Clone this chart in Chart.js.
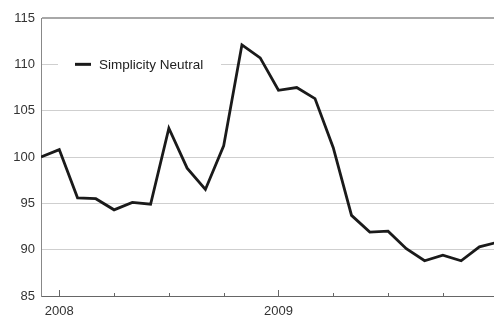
<!DOCTYPE html>
<html>
<head>
<meta charset="utf-8">
<script src="https://cdn.jsdelivr.net/npm/chart.js"></script>
<style>
    html, body { margin: 0; padding: 0; background: #fff; overflow: hidden; }
    .chart-box { width: 494px; height: 316px; position: relative; }
</style>
</head>
<body>
<div class="chart-box"><canvas id="chart"></canvas></div>
<script>
// --------------------------------------------------
//  Data (monthly, Dec 2007 - Jan 2010)
// --------------------------------------------------
var months = [
    'Dec 2007', 'Jan 2008', 'Feb 2008', 'Mar 2008', 'Apr 2008', 'May 2008', 'Jun 2008',
    'Jul 2008', 'Aug 2008', 'Sep 2008', 'Oct 2008', 'Nov 2008', 'Dec 2008',
    'Jan 2009', 'Feb 2009', 'Mar 2009', 'Apr 2009', 'May 2009', 'Jun 2009',
    'Jul 2009', 'Aug 2009', 'Sep 2009', 'Oct 2009', 'Nov 2009', 'Dec 2009', 'Jan 2010'
];
var simplicityNeutral = [
    100.0, 100.8, 95.6, 95.5, 94.3, 95.1, 94.9,
    103.1, 98.8, 96.5, 101.2, 112.1, 110.7,
    107.2, 107.5, 106.3, 101.0, 93.7, 91.9,
    92.0, 90.1, 88.8, 89.4, 88.8, 90.3, 90.8
];
var seriesName = 'Simplicity Neutral';
var yearLabels = { 'Jan 2008': '2008', 'Jan 2009': '2009' };
var quarterTicks = ['Jan 2008', 'Apr 2008', 'Jul 2008', 'Oct 2008',
                    'Jan 2009', 'Apr 2009', 'Jul 2009', 'Oct 2009'];

var FONT = '"Liberation Sans", Arial, Helvetica, sans-serif';

// the last month runs slightly past the right edge in the original
var X_MAX = 24.8;

var points = simplicityNeutral.map(function (v, i) { return { x: i, y: v }; });

// --------------------------------------------------
//  Plugins: inward tick marks + inline legend
// --------------------------------------------------
var tickMarks = {
    id: 'tickMarks',
    afterDraw: function (chart) {
        var ctx = chart.ctx;
        var x = chart.scales.x;
        var bottom = chart.chartArea.bottom;
        ctx.save();
        ctx.strokeStyle = '#666';
        ctx.lineWidth = 1;
        quarterTicks.forEach(function (m) {
            var px = Math.round(x.getPixelForValue(months.indexOf(m))) + 0.5;
            var len = yearLabels[m] ? 6 : 3;
            ctx.beginPath();
            ctx.moveTo(px, bottom);
            ctx.lineTo(px, bottom - len);
            ctx.stroke();
        });
        ctx.restore();
    }
};

var inlineLegend = {
    id: 'inlineLegend',
    beforeDatasetsDraw: function (chart) {
        var ctx = chart.ctx;
        var y = chart.scales.y.getPixelForValue(110);
        ctx.save();
        ctx.fillStyle = '#fff';
        ctx.fillRect(58, y - 9, 163, 18);
        ctx.strokeStyle = '#1a1a1a';
        ctx.lineWidth = 3;
        ctx.beginPath();
        ctx.moveTo(75, y);
        ctx.lineTo(91, y);
        ctx.stroke();
        ctx.fillStyle = '#222';
        ctx.font = '13.5px ' + FONT;
        ctx.textBaseline = 'middle';
        ctx.fillText(seriesName, 99, y + 1);
        ctx.restore();
    }
};

// --------------------------------------------------
//  Chart
// --------------------------------------------------
new Chart(document.getElementById('chart').getContext('2d'), {
    type: 'line',
    data: {
        datasets: [{
            label: seriesName,
            data: points,
            borderColor: '#1a1a1a',
            borderWidth: 2.8,
            borderJoinStyle: 'miter',
            pointRadius: 0,
            tension: 0,
            fill: false
        }]
    },
    options: {
        responsive: true,
        maintainAspectRatio: false,
        animation: false,
        layout: { padding: { left: 0, top: 18, right: 0, bottom: 0 } },
        plugins: {
            legend: { display: false },
            tooltip: { enabled: false }
        },
        scales: {
            x: {
                type: 'linear',
                min: 0,
                max: X_MAX,
                grid: { display: false, drawTicks: false },
                border: { display: true, color: '#666', width: 1 },
                afterBuildTicks: function (s) {
                    s.ticks = Object.keys(yearLabels).map(function (m) {
                        return { value: months.indexOf(m) };
                    });
                },
                ticks: {
                    autoSkip: false,
                    maxRotation: 0,
                    padding: 8,
                    color: '#333',
                    font: { size: 13, family: FONT },
                    callback: function (value) {
                        return yearLabels[months[value]] || '';
                    }
                },
                afterFit: function (s) { s.height = 20; }
            },
            y: {
                min: 85,
                max: 115,
                ticks: {
                    stepSize: 5,
                    padding: 6,
                    color: '#333',
                    font: { size: 13, family: FONT }
                },
                grid: {
                    drawTicks: false,
                    color: function (c) { return c.tick.value === 115 ? '#a8a8a8' : '#cfcfcf'; },
                    lineWidth: function (c) { return c.tick.value === 115 ? 2 : 1; }
                },
                border: { display: true, color: '#888', width: 1 },
                afterFit: function (s) { s.width = 41; }
            }
        }
    },
    plugins: [inlineLegend, tickMarks]
});
</script>
</body>
</html>
